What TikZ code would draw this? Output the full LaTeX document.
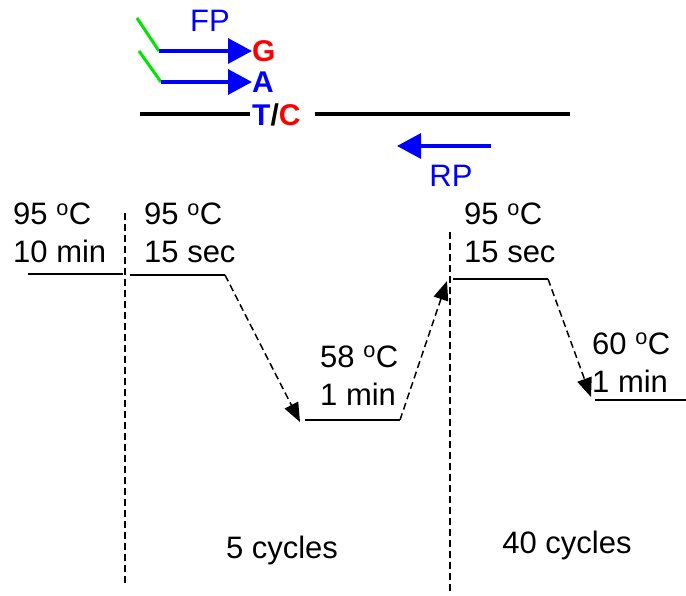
\documentclass[tikz,border=0pt]{standalone}
\usepackage{fontspec}
\setmainfont{Liberation Sans}
\usetikzlibrary{arrows.meta,positioning}

\definecolor{tailgreen}{RGB}{0,230,0}
\definecolor{primerblue}{RGB}{0,0,255}
\definecolor{snpred}{RGB}{255,0,0}

\begin{document}
\begin{tikzpicture}[
  x=1pt, y=-1pt,
  font=\fontsize{31}{38}\selectfont,
  temp/.style={align=left, inner sep=0pt, anchor=base west},
  allele/.style={font=\fontsize{30}{30}\selectfont\bfseries, inner sep=0pt, anchor=west},
  strand/.style={line width=3.5pt},
  level/.style={line width=2.4pt},
  ramp/.style={line width=1.5pt, dash pattern=on 7pt off 4pt, -{Triangle[length=19pt,width=15pt]}},
  cyclesep/.style={line width=1.3pt, dash pattern=on 7pt off 4pt},
  primer/.style={primerblue, line width=3.2pt, -{Triangle[length=24pt,width=25pt]}},
  tail/.style={tailgreen, line width=3pt}
]
\useasboundingbox (0,0) rectangle (686,596);

% primers on the template
\node[text=primerblue] (fp) at (210,21) {FP};
\node[allele, text=snpred] (g) at (252,51) {G};
\node[allele, text=primerblue] (a) at (252,82) {A};
\node[allele] (tc) at (252,115) {\textcolor{primerblue}{T}/\textcolor{snpred}{C}};
\coordinate (tail1) at (137,18);
\coordinate (fp1) at (159,51);
\coordinate (tail2) at (139,51);
\coordinate (fp2) at (161,82);
\draw[tail] (tail1) -- (fp1);
\draw[tail] (tail2) -- (fp2);
\draw[primer] (fp1) -- (fp1 -| g.west);
\draw[primer] (fp2) -- (fp2 -| a.west);

\coordinate (tl) at (140,114);
\coordinate (tr) at (570,114);
\draw[strand, shorten >=2pt] (tl) -- (tl -| tc.west);
\draw[strand, shorten <=14pt] (tr -| tc.east) -- (tr);

\coordinate (rp1) at (491,146);
\coordinate (rp2) at (397,146);
\draw[primer] (rp1) -- (rp2);
\node[text=primerblue] (rp) at (451,176) {RP};

% cycling profile
\node[temp] (init) at (13,263) {95 \textsuperscript{o}C\\10 min};
\node[temp] (den) at (144,263) {95 \textsuperscript{o}C\\15 sec};
\node[temp] (ann) at (320,405) {58 \textsuperscript{o}C\\1 min};
\node[temp] (den2) at (464,263) {95 \textsuperscript{o}C\\15 sec};
\node[temp] (ext) at (592,392) {60 \textsuperscript{o}C\\1 min};

\coordinate (init-a) at (28,274);  \coordinate (init-b) at (123,274);
\coordinate (den-a) at (130,275);  \coordinate (den-b) at (225,275);
\coordinate (ann-a) at (305,420);  \coordinate (ann-b) at (400,420);
\coordinate (den2-a) at (453,279); \coordinate (den2-b) at (548,279);
\coordinate (ext-a) at (595,400);  \coordinate (ext-b) at (686,400);

\foreach \s in {init,den,ann,den2,ext}
  \draw[level] (\s-a) -- (\s-b);

\draw[ramp] (den-b) -- ([shift={(-5,2)}]ann-a);
\draw[ramp] (ann-b) -- ([shift={(-6,2)}]den2-a);
\draw[ramp] (den2-b) -- ([shift={(-4,-3)}]ext-a);

\coordinate (sep1t) at (125,213); \coordinate (sep1b) at (125,585);
\coordinate (sep2t) at (450,232); \coordinate (sep2b) at (450,594);
\draw[cyclesep] (sep1t) -- (sep1b);
\draw[cyclesep] (sep2t) -- (sep2b);

\node (c5) at (282,550) {5 cycles};
\node (c40) at (567,545) {40 cycles};

\end{tikzpicture}
\end{document}
